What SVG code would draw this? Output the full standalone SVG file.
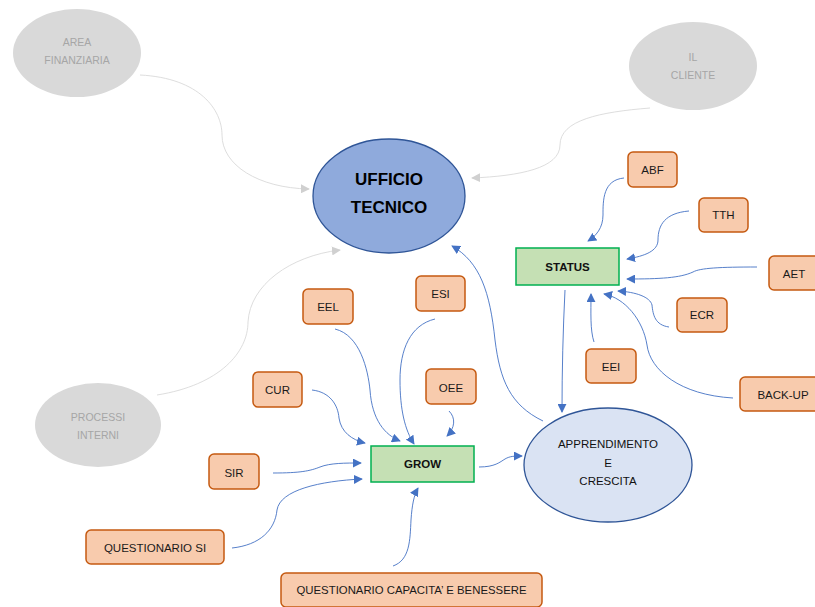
<svg xmlns="http://www.w3.org/2000/svg" width="815" height="607" viewBox="0 0 815 607">
  <style>
    text { font-family: "Liberation Sans", Arial, sans-serif; text-anchor: middle; dominant-baseline: central; }
    .ext ellipse { fill: #d9d9d9; }
    .ext text { fill: #a6a6a6; font-size: 10.5px; }
    .kpi rect { fill: #f8cbad; stroke: #c55a11; stroke-width: 1.5; }
    .kpi text { fill: #1a1a1a; font-size: 11.5px; }
    .persp rect { fill: #c5e0b4; stroke: #00b050; stroke-width: 1.5; }
    .persp text { fill: #111; font-size: 11.5px; font-weight: bold; }
    .link { fill: none; stroke: #4472c4; stroke-width: 0.9; marker-end: url(#arrowBlue); }
    .link-ext { fill: none; stroke: #d9d9d9; stroke-width: 0.9; marker-end: url(#arrowGray); }
  </style>
  <defs>
    <marker id="arrowBlue" viewBox="0 0 10 10" refX="9" refY="5" markerWidth="9" markerHeight="9" markerUnits="userSpaceOnUse" orient="auto">
      <path d="M0,0 L10,5 L0,10 Z" fill="#4472c4"/>
    </marker>
    <marker id="arrowGray" viewBox="0 0 10 10" refX="9" refY="5" markerWidth="9" markerHeight="9" markerUnits="userSpaceOnUse" orient="auto">
      <path d="M0,0 L10,5 L0,10 Z" fill="#d0d0d0"/>
    </marker>
  </defs>

  <rect width="815" height="607" fill="#ffffff"/>

  <!-- connectors -->
  <g id="connectors">
    <path class="link-ext" d="M140,75 C200,78 222,110 222,135 C222,165 258,188 309,189"/>
    <path class="link-ext" d="M650,108 C600,112 560,120 560,145 C560,168 520,176 472,178"/>
    <path class="link-ext" d="M157,395 C220,385 248,352 248,322 C250,285 290,256 340,250"/>

    <path class="link" d="M624,178 C603,180 603,200 603,215 C603,228 596,236 588,241"/>
    <path class="link" d="M689,211 C665,213 658,225 658,240 C658,251 645,256 627,259"/>
    <path class="link" d="M757,267 C720,267 700,268 693,272 C680,278 660,279 627,279"/>
    <path class="link" d="M669,327 C655,325 653,315 652,305 C650,297 636,292 618,291"/>
    <path class="link" d="M594,342 C590,330 591,312 591,294"/>
    <path class="link" d="M733,398 C680,395 650,370 647,345 C643,320 625,298 604,294"/>
    <path class="link" d="M565,290 C563,330 562,370 562,412"/>
    <path class="link" d="M543,421 C510,405 500,380 495,340 C490,292 480,262 452,246"/>
    <path class="link" d="M479,467 C495,467 500,462 505,459 C510,456 515,456 522,456"/>

    <path class="link" d="M335,329 C360,335 368,370 370,390 C372,420 385,435 400,441"/>
    <path class="link" d="M435,319 C410,325 400,350 400,380 C400,410 405,430 414,444"/>
    <path class="link" d="M449,411 C456,418 455,428 447,436"/>
    <path class="link" d="M312,390 C330,392 338,405 339,418 C341,432 352,440 365,443"/>
    <path class="link" d="M273,473 C300,473 310,471 320,467 C330,463 345,463 361,463"/>
    <path class="link" d="M232,548 C260,545 275,530 277,510 C280,490 320,481 362,479"/>
    <path class="link" d="M393,566 C410,560 410,540 411,520 C412,505 414,495 418,488"/>
  </g>

  <!-- external perspectives -->
  <g id="area-finanziaria" class="ext">
    <ellipse cx="77" cy="53" rx="64" ry="44"/>
    <text x="77" y="42">AREA</text>
    <text x="77" y="60">FINANZIARIA</text>
  </g>
  <g id="il-cliente" class="ext">
    <ellipse cx="693" cy="66" rx="64" ry="44"/>
    <text x="693" y="57">IL</text>
    <text x="693" y="75">CLIENTE</text>
  </g>
  <g id="processi-interni" class="ext">
    <ellipse cx="98" cy="425" rx="63" ry="42"/>
    <text x="98" y="417">PROCESSI</text>
    <text x="98" y="435">INTERNI</text>
  </g>

  <!-- central node -->
  <g id="ufficio-tecnico">
    <ellipse cx="389" cy="196" rx="76" ry="57" fill="#8faadc" stroke="#2f5597" stroke-width="1.3"/>
    <text x="389" y="179" font-size="17" font-weight="bold" fill="#000">UFFICIO</text>
    <text x="389" y="207" font-size="17" font-weight="bold" fill="#000">TECNICO</text>
  </g>

  <g id="apprendimento-crescita">
    <ellipse cx="608" cy="465" rx="84" ry="57" fill="#dae3f3" stroke="#2f5597" stroke-width="1.3"/>
    <text x="608" y="444" font-size="11.5" fill="#111">APPRENDIMENTO</text>
    <text x="608" y="463" font-size="11.5" fill="#111">E</text>
    <text x="608" y="481" font-size="11.5" fill="#111">CRESCITA</text>
  </g>

  <g id="status" class="persp">
    <rect x="516" y="248" width="103" height="37"/>
    <text x="567.5" y="267">STATUS</text>
  </g>
  <g id="grow" class="persp">
    <rect x="371" y="446" width="103" height="36"/>
    <text x="422.5" y="464">GROW</text>
  </g>

  <!-- indicators -->
  <g id="abf" class="kpi"><rect x="628" y="152" width="49" height="35" rx="5"/><text x="652.5" y="170">ABF</text></g>
  <g id="tth" class="kpi"><rect x="699" y="198" width="49" height="34" rx="5"/><text x="723.5" y="215">TTH</text></g>
  <g id="aet" class="kpi"><rect x="769" y="256" width="50" height="34" rx="5"/><text x="794" y="274">AET</text></g>
  <g id="ecr" class="kpi"><rect x="677" y="298" width="50" height="34" rx="5"/><text x="702" y="315">ECR</text></g>
  <g id="eei" class="kpi"><rect x="586" y="349" width="50" height="34" rx="5"/><text x="611" y="367">EEI</text></g>
  <g id="back-up" class="kpi"><rect x="740" y="377" width="80" height="34" rx="5"/><text x="783" y="395">BACK-UP</text></g>
  <g id="esi" class="kpi"><rect x="416" y="276" width="49" height="35" rx="5"/><text x="440.5" y="294">ESI</text></g>
  <g id="eel" class="kpi"><rect x="303" y="289" width="50" height="35" rx="5"/><text x="328" y="307">EEL</text></g>
  <g id="oee" class="kpi"><rect x="426" y="369" width="50" height="35" rx="5"/><text x="451" y="388">OEE</text></g>
  <g id="cur" class="kpi"><rect x="253" y="372" width="49" height="35" rx="5"/><text x="277.5" y="390">CUR</text></g>
  <g id="sir" class="kpi"><rect x="209" y="454" width="50" height="35" rx="5"/><text x="234" y="473">SIR</text></g>
  <g id="questionario-si" class="kpi"><rect x="86" y="530" width="138" height="34" rx="5"/><text x="155" y="548">QUESTIONARIO SI</text></g>
  <g id="questionario-capacita" class="kpi"><rect x="281" y="573" width="261" height="34" rx="5"/><text x="411.5" y="590" textLength="230" lengthAdjust="spacingAndGlyphs">QUESTIONARIO CAPACITA’ E BENESSERE</text></g>
</svg>
